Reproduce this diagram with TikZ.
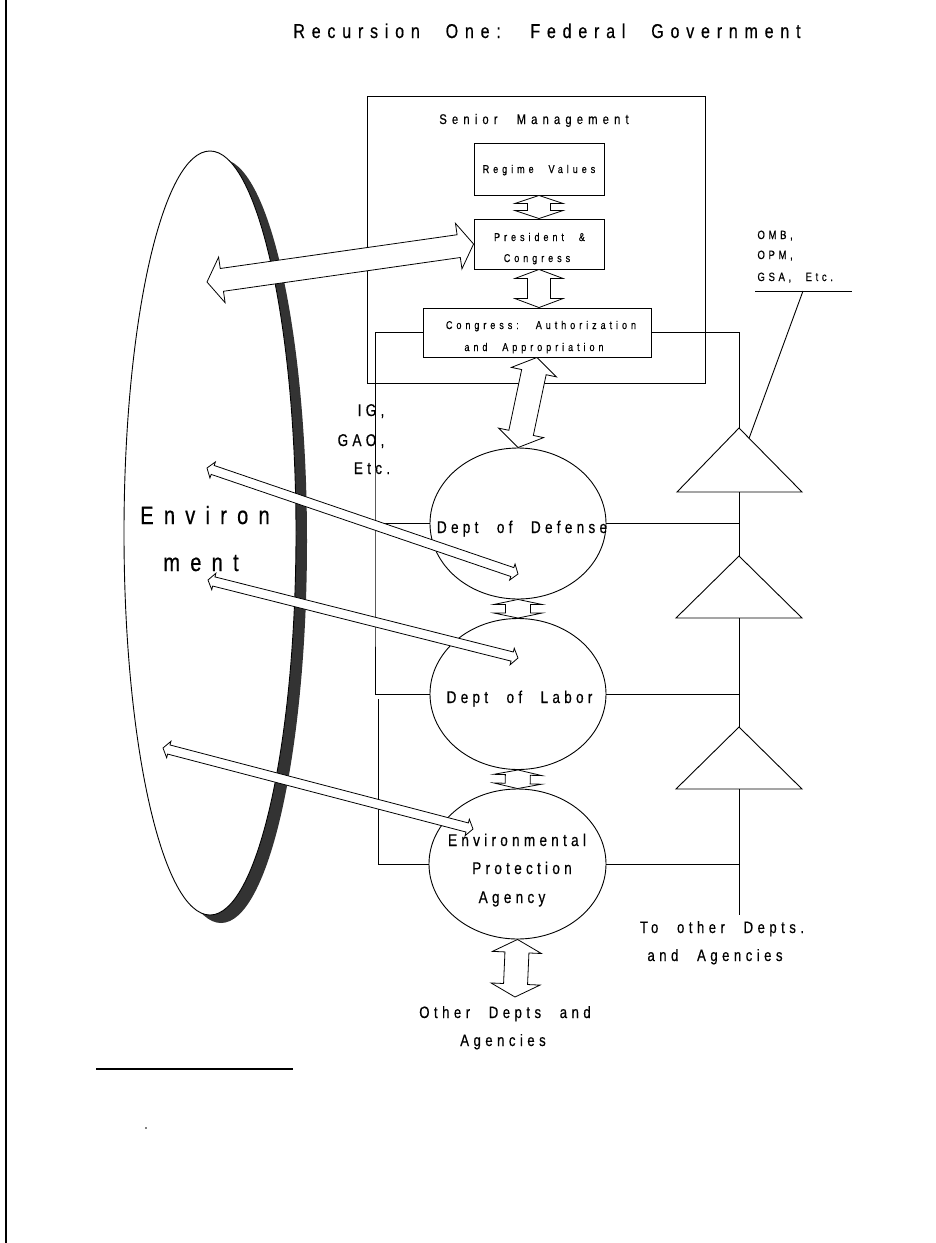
\documentclass[tikz,border=0pt]{standalone}
\usepackage{fontspec}
\usetikzlibrary{calc,shapes.geometric}
\newfontfamily\df[FakeStretch=0.8,WordSpace=2.3,FakeBold=0.5]{Liberation Sans}
\newcommand\tf[2]{\df\fontsize{#1}{#1}\selectfont\addfontfeature{LetterSpace=#2}}
% #1 id, #2 from, #3 to, #4 half shaft, #5 half head, #6 head length
\newcommand\blockarrow[6]{%
  \coordinate (#1ha) at ($(#2)!#6!(#3)$);
  \coordinate (#1hb) at ($(#3)!#6!(#2)$);
  \draw[blk] (#2) -- ($(#1ha)!#5!90:(#3)$) -- ($(#1ha)!#4!90:(#3)$) -- ($(#1hb)!#4!-90:(#2)$) -- ($(#1hb)!#5!-90:(#2)$) -- (#3) -- ($(#1hb)!#5!90:(#2)$) -- ($(#1hb)!#4!90:(#2)$) -- ($(#1ha)!#4!-90:(#3)$) -- ($(#1ha)!#5!-90:(#3)$) -- cycle;
}
\begin{document}
\begin{tikzpicture}[x=1pt,y=-1pt,line width=0.9pt,
  lab/.style={inner sep=0pt,anchor=base},
  labd/.style={lab,font=\tf{17}{25}},
  labo/.style={lab,font=\tf{16.5}{27}},
  lab11/.style={lab,font=\tf{11.3}{35}},
  box/.style={draw,rectangle,inner sep=0pt},
  dept/.style={draw,ellipse,fill=white,inner sep=0pt,minimum width=176pt,minimum height=151pt},
  blk/.style={draw,fill=white,line width=0.8pt,line join=miter},
  tri/.style={draw,line join=miter}]
\fill[white] (0,0) rectangle (935,1243);
\useasboundingbox (0,0) rectangle (935,1243);
% page border line
\coordinate (bt) at (6,0); \coordinate (bb) at (6,1243);
\draw[line width=2.2pt] (bt) -- (bb);
% title
\node[lab,font=\tf{20}{34}] (title) at (547,38) {Recursion One: Federal Government};
% environment ellipse with shadow
\node[ellipse,fill=black!80,inner sep=0pt,minimum width=172pt,minimum height=764pt] (envsh) at (221,541) {};
\node[ellipse,draw,fill=white,inner sep=0pt,minimum width=172pt,minimum height=764pt] (env) at (210,533) {};
\node[lab,font=\tf{25}{41}] (env1) at (205,524) {Environ};
\node[lab,font=\tf{25}{41}] (env2) at (201,571) {ment};
% senior management boxes
\node[box,minimum width=338pt,minimum height=287pt] (sm) at (536,239.5) {};
\node[lab,font=\tf{14}{37}] (smt) at (534,124) {Senior Management};
\node[box,minimum width=130pt,minimum height=52pt] (rv) at (539,169) {};
\node[box,minimum width=130pt,minimum height=50pt] (pres) at (539,244) {};
\node[box,minimum width=228pt,minimum height=49pt] (cong) at (537,332.5) {};
% departments
\node[dept] (dod) at (518,523.5) {};
\node[dept] (dol) at (518,694) {};
\node[dept,minimum width=177pt,minimum height=150pt] (epa) at (517.5,864) {};
% left oversight lines
\coordinate (lbus) at (375,600);
\draw (cong.west) -| (lbus) |- (dol.west);
\draw (dod.west) -- (dod.west -| lbus);
\coordinate (lbus2) at (378,699);
\draw (lbus2) |- (epa.west);
% triangles
\coordinate (t1a) at (739,428); \coordinate (t1l) at (677,492); \coordinate (t1r) at (802,492); \coordinate (t1b) at (739,492);
\coordinate (t2a) at (739,556); \coordinate (t2l) at (676,618); \coordinate (t2r) at (802,618); \coordinate (t2b) at (739,618);
\coordinate (t3a) at (739,727); \coordinate (t3l) at (676,789); \coordinate (t3r) at (802,789); \coordinate (t3b) at (739,789);
\coordinate (rend) at (739,915);
\draw[tri] (t1a) -- (t1l) -- (t1r) -- cycle;
\draw[tri] (t2a) -- (t2l) -- (t2r) -- cycle;
\draw[tri] (t3a) -- (t3l) -- (t3r) -- cycle;
\draw (cong.east) -| (t1a);
\draw (t1b) -- (t2a);
\draw (t2b) -- (t3a);
\draw (t3b) -- (rend);
\draw (dod.east) -- (dod.east -| t1a);
\draw (dol.east) -- (dol.east -| t1a);
\draw (epa.east) -- (epa.east -| t1a);
% OMB label and leader
\coordinate (omb1) at (755,291); \coordinate (omb2) at (852,291); \coordinate (ombm) at (803,291);
\coordinate (t1s) at ($(t1a)!0.16!(t1r)$);
\draw (omb1) -- (omb2);
\draw (ombm) -- (t1s);
\node[lab,anchor=base west,font=\tf{12}{30}] (omb) at (757,239) {OMB,};
\node[lab,anchor=base west,font=\tf{12}{30}] (opm) at (757,259) {OPM,};
\node[lab,anchor=base west,font=\tf{12}{30}] (gsa) at (757,281) {GSA, Etc.};
% block arrows
\coordinate (e0) at (207,282);
\blockarrow{a0}{e0}{pres.west}{11.5pt}{23pt}{15pt}
\blockarrow{a1}{rv.south}{pres.north}{11.5pt}{24pt}{8pt}
\coordinate (cn) at (pres.south |- cong.north);
\blockarrow{a2}{pres.south}{cn}{11.5pt}{24pt}{9pt}
\blockarrow{a3}{cong.south}{dod.north}{12.5pt}{23pt}{15pt}
\blockarrow{a4}{dod.south}{dol.north}{12.5pt}{24pt}{5pt}
\blockarrow{a5}{dol.south}{epa.north}{12.5pt}{24pt}{5pt}
\coordinate (od) at (515,997);
\blockarrow{a6}{epa.south}{od}{12pt}{24.5pt}{13pt}
\coordinate (e1) at (207,468); \coordinate (d1) at (518,574);
\coordinate (e2) at (208,580); \coordinate (d2) at (518,658);
\coordinate (e3) at (163,748); \coordinate (d3) at (473,829);
\blockarrow{b1}{e1}{d1}{4.7pt}{8.5pt}{6pt}
\blockarrow{b2}{e2}{d2}{4.7pt}{8.5pt}{6pt}
\blockarrow{b3}{e3}{d3}{4.7pt}{8.5pt}{6pt}
% texts
\node[lab11] (rvt) at (539,173) {Regime Values};
\node[lab11] (prt1) at (539.5,241) {President \&};
\node[lab11] (prt2) at (537,262) {Congress};
\node[lab11] (cgt1) at (541,329) {Congress: Authorization};
\node[lab11] (cgt2) at (534,351) {and Appropriation};
\node[labd] (dodt) at (522,533) {Dept of Defense};
\node[labd] (dolt) at (519.5,703) {Dept of Labor};
\node[labd] (epat1) at (517,846) {Environmental};
\node[labd] (epat2) at (522,874) {Protection};
\node[labd] (epat3) at (512,903) {Agency};
\node[labd] (ig1) at (371,416) {IG,};
\node[labd] (ig2) at (361,446) {GAO,};
\node[labd] (ig3) at (372,474) {Etc.};
\node[labo] (tod1) at (722,933) {To other Depts.};
\node[labo] (tod2) at (715,961) {and Agencies};
\node[labo] (odt1) at (505,1018) {Other Depts and};
\node[labo] (odt2) at (503,1046) {Agencies};
% footnote rule and speck
\coordinate (fn1) at (96,1069); \coordinate (fn2) at (293,1069);
\draw[line width=1.8pt] (fn1) -- (fn2);
\fill (146,1128) circle (0.9);
\end{tikzpicture}
\end{document}
